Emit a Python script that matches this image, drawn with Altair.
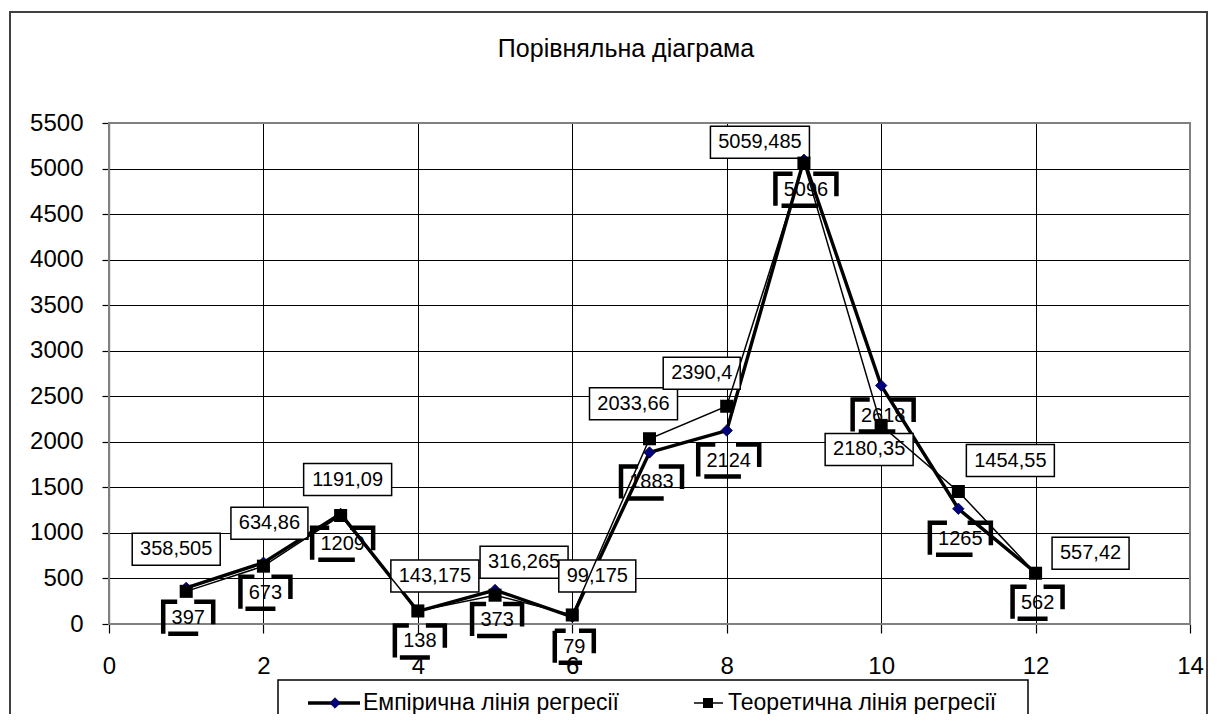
import altair as alt
import pandas as pd

# ---------------- data ----------------
x_points = [1, 2, 3, 4, 5, 6, 7, 8, 9, 10, 11, 12]
empirical = [397, 673, 1209, 138, 373, 79, 1883, 2124, 5096, 2618, 1265, 562]
theoretical = [358.505, 634.86, 1191.09, 143.175, 316.265, 99.175,
               2033.66, 2390.4, 5059.485, 2180.35, 1454.55, 557.42]
series_names = ["Емпірична лінія регресії", "Теоретична лінія регресії"]
title_text = "Порівняльна діаграма"
x_ticks = [0, 2, 4, 6, 8, 10, 12, 14]
y_ticks = [0, 500, 1000, 1500, 2000, 2500, 3000, 3500, 4000, 4500, 5000, 5500]

# ---------------- layout (pixels) ----------------
W, H = 1081, 501
X_MAX, Y_MAX = 14, 5500
PPX = W / X_MAX
PPY = H / Y_MAX
FONT = "Liberation Sans"
LABEL_SIZE = 20
AXIS_SIZE = 24

# pixel offsets of the data-label boxes relative to their points
theo_label_dx = [-10, 6, 7, 17, 29, 25, -16, -25, -44, -12, 52, 55]
theo_label_dy = [-42, -43, -36, -35, -33, -39, -35, -33, -21, 24, -31, -20]
emp_label_dy = 30


def fmt(v):
    return str(v).replace(".", ",")


def text_w(s, size=LABEL_SIZE):
    return sum(0.278 if c == "," else 0.556 for c in s) * size


def label_rows(xs, vals, dxs, dys, pad, h):
    rows = []
    for x, v, dx, dy in zip(xs, vals, dxs, dys):
        s = fmt(v)
        w = round(text_w(s) + pad)
        cx = x + dx / PPX
        cy = v - dy / PPY
        rows.append(dict(label=s, cx=cx, cy=cy, w=w,
                         x1=cx - w / 2 / PPX, x2=cx + w / 2 / PPX,
                         y1=cy - h / 2 / PPY, y2=cy + h / 2 / PPY))
    return pd.DataFrame(rows)


emp_df = pd.DataFrame({"x": x_points, "value": empirical, "series": series_names[0]})
theo_df = pd.DataFrame({"x": x_points, "value": theoretical, "series": series_names[1]})

theo_lab = label_rows(x_points, theoretical, theo_label_dx, theo_label_dy, 16, 32)
emp_lab = label_rows(x_points, empirical, [2] * 12, [emp_label_dy] * 12, 17, 32)

xs = alt.Scale(domain=[0, X_MAX], nice=False, zero=False)
ys = alt.Scale(domain=[0, Y_MAX], nice=False, zero=False)

x_axis = alt.Axis(values=x_ticks, title=None, grid=True,
                  gridColor="#000000", gridWidth=1, domainColor="#000000", domainWidth=1.2,
                  tickColor="#000000", tickSize=9, tickWidth=1.2,
                  labelFont=FONT, labelFontSize=AXIS_SIZE, labelColor="#000000",
                  labelPadding=21, labelFlush=False, labelOverlap=False, format="d")
y_axis = alt.Axis(values=y_ticks, title=None, grid=True,
                  gridColor="#000000", gridWidth=1, domainColor="#000000", domainWidth=1.2,
                  tickColor="#000000", tickSize=7, tickWidth=1.2,
                  labelFont=FONT, labelFontSize=AXIS_SIZE, labelColor="#000000",
                  labelPadding=19, labelFlush=False, labelOverlap=False, format="d")


def X(f):
    return alt.X(f, type="quantitative", scale=xs, axis=x_axis)


def Y(f):
    return alt.Y(f, type="quantitative", scale=ys, axis=y_axis)


one = pd.DataFrame({"k": [0]})

# outer chart frame
frame = alt.Chart(one).mark_rect(filled=False, color="#404040", strokeWidth=2).encode(
    x=alt.value(-99), x2=alt.value(1098), y=alt.value(-111), y2=alt.value(720))

title = alt.Chart(one).mark_text(font=FONT, fontSize=25, color="#000000",
                                 align="center", baseline="alphabetic").encode(
    x=alt.value(517), y=alt.value(-66), text=alt.value(title_text))

# plot-area border on top and right (gray)
border = alt.Chart(one).mark_rect(filled=False, color="#808080", strokeWidth=2).encode(
    x=alt.value(0), x2=alt.value(W), y=alt.value(0), y2=alt.value(H))

emp_line = alt.Chart(emp_df).mark_line(color="#000000", strokeWidth=3.4).encode(
    x=X("x"), y=Y("value"))

emp_pts = alt.Chart(emp_df).mark_point(shape="diamond", filled=True, fill="#000080",
                                       stroke="#00002a", strokeWidth=0.8, size=130, opacity=1).encode(
    x=X("x"), y=Y("value"))

theo_line = alt.Chart(theo_df).mark_line(color="#000000", strokeWidth=1.5).encode(
    x=X("x"), y=Y("value"))

theo_pts = alt.Chart(theo_df).mark_point(shape="square", filled=True, color="#000000",
                                         size=170, opacity=1).encode(
    x=X("x"), y=Y("value"))

# theoretical labels: plain white boxes
theo_box = alt.Chart(theo_lab).mark_rect(fill="#ffffff", stroke="#000000", strokeWidth=1.5).encode(
    x=X("x1"), x2="x2:Q", y=Y("y1"), y2="y2:Q")
theo_txt = alt.Chart(theo_lab).mark_text(font=FONT, fontSize=LABEL_SIZE, color="#000000",
                                         align="center", baseline="middle").encode(
    x=X("cx"), y=Y("cy"), text="label:N")


# empirical labels: thick bracket-like borders
def bracket_dash(w, h):
    return [0.28 * w, 0.34 * w, 0.38 * w + 0.7 * h, 0.3 * h + 0.3 * w, 0.6 * w, 0.1 * w, h]


emp_boxes = []
for w in sorted(emp_lab["w"].unique()):
    emp_boxes.append(
        alt.Chart(emp_lab).transform_filter(alt.datum.w == int(w)).mark_rect(
            filled=False, color="#000000", strokeWidth=4.5,
            strokeDash=[round(d, 1) for d in bracket_dash(int(w), 32)]).encode(
            x=X("x1"), x2="x2:Q", y=Y("y1"), y2="y2:Q"))
emp_txt = alt.Chart(emp_lab).mark_text(font=FONT, fontSize=LABEL_SIZE, color="#000000",
                                       align="center", baseline="middle").encode(
    x=X("cx"), y=Y("cy"), text="label:N")

# legend (drawn by hand, below the plot)
LEG_Y = 580
leg_box = alt.Chart(one).mark_rect(fill="#ffffff", stroke="#000000", strokeWidth=1.5).encode(
    x=alt.value(169), x2=alt.value(919), y=alt.value(557), y2=alt.value(720))
leg_l1 = alt.Chart(one).mark_rule(color="#000000", strokeWidth=3.5).encode(
    x=alt.value(199), x2=alt.value(251), y=alt.value(LEG_Y))
leg_p1 = alt.Chart(one).mark_point(shape="diamond", filled=True, fill="#000080", stroke="#00002a",
                                   strokeWidth=0.8, size=110, opacity=1).encode(
    x=alt.value(226), y=alt.value(LEG_Y))
leg_t1 = alt.Chart(one).mark_text(font=FONT, fontSize=23, color="#000000", align="left",
                                  baseline="middle").encode(
    x=alt.value(254), y=alt.value(LEG_Y), text=alt.value(series_names[0]))
leg_l2 = alt.Chart(one).mark_rule(color="#000000", strokeWidth=1.5).encode(
    x=alt.value(585), x2=alt.value(614), y=alt.value(LEG_Y))
leg_p2 = alt.Chart(one).mark_point(shape="square", filled=True, color="#000000",
                                   size=100, opacity=1).encode(
    x=alt.value(599), y=alt.value(LEG_Y))
leg_t2 = alt.Chart(one).mark_text(font=FONT, fontSize=23, color="#000000", align="left",
                                  baseline="middle").encode(
    x=alt.value(619), y=alt.value(LEG_Y), text=alt.value(series_names[1]))

chart = alt.layer(
    emp_line, frame, title, border, theo_box, theo_txt, *emp_boxes, emp_txt,
    emp_pts, theo_line, theo_pts,
    leg_box, leg_l1, leg_p1, leg_t1, leg_l2, leg_p2, leg_t2,
).properties(
    width=W, height=H,
    autosize=alt.AutoSizeParams(type="none"),
    padding={"left": 101, "top": 115, "right": 19, "bottom": 90},
    background="#ffffff",
).configure_view(strokeWidth=0)

chart.save("out.html", embed_options={"renderer": "svg", "actions": False})
